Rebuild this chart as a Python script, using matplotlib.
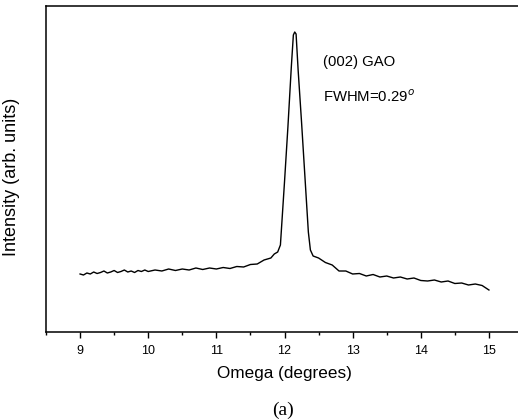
import matplotlib
matplotlib.use("Agg")
import matplotlib.pyplot as plt
from matplotlib.ticker import MultipleLocator

# Omega (degrees) and intensity (arb. units)
omega = [9.0, 9.05, 9.1, 9.15, 9.2, 9.25, 9.3, 9.35, 9.4, 9.45,
         9.5, 9.55, 9.6, 9.65, 9.7, 9.75, 9.8, 9.85, 9.9, 9.95,
         10.0, 10.1, 10.2, 10.3, 10.4, 10.5, 10.6, 10.7, 10.8, 10.9,
         11.0, 11.1, 11.2, 11.3, 11.4, 11.5, 11.6, 11.7, 11.8, 11.85,
         11.9, 11.94, 12.0, 12.05, 12.1, 12.13, 12.15, 12.17, 12.2, 12.25,
         12.3, 12.35, 12.38, 12.42, 12.5, 12.6, 12.7, 12.8, 12.9, 13.0,
         13.1, 13.2, 13.3, 13.4, 13.5, 13.6, 13.7, 13.8, 13.9, 14.0,
         14.1, 14.2, 14.3, 14.4, 14.5, 14.6, 14.7, 14.8, 14.9, 15.0]
intensity = [58, 57, 59, 58, 60, 58.5, 59.5, 61, 59, 60,
             61.5, 59.5, 60.5, 62, 60, 61, 59.5, 61.5, 60.5, 62,
             60.5, 62, 61, 63, 61.5, 63, 62, 64, 62.5, 64,
             63, 64.5, 63.5, 65.5, 65, 67.5, 68, 72, 74, 78,
             80, 87, 150, 205, 265, 297, 300, 298, 262, 210,
             155, 100, 82, 76, 74, 69.5, 67, 61, 61, 58,
             58.5, 56, 57.5, 55, 56, 54, 55, 53, 54, 51.5,
             51, 52, 50, 51, 48.5, 49, 47, 48, 46.5, 42]

xticks = [9, 10, 11, 12, 13, 14, 15]
label_a = "(002) GAO"
label_b = "FWHM=0.29$^{o}$"

plt.rcParams['font.family'] = ['Liberation Sans', 'DejaVu Sans']

fig = plt.figure(figsize=(5.18, 4.2), dpi=100)
ax = fig.add_axes([46/518, 88/420, 477/518, 326/420])
ax.plot(omega, intensity, color='black', lw=1.0)

ax.set_xlim(8.5, 15.5)
ax.set_ylim(0, 326)
ax.set_xticks(xticks)
ax.xaxis.set_minor_locator(MultipleLocator(0.5))
ax.set_yticks([])
ax.tick_params(axis='x', which='major', direction='out', length=4.5, width=1.0,
               labelsize=9, pad=5)
ax.tick_params(axis='x', which='minor', direction='out', length=2.5, width=1.0)
for s in ax.spines.values():
    s.set_linewidth(1.1)

ax.set_xlabel("Omega (degrees)", fontsize=12.3, labelpad=6)
ax.set_ylabel("Intensity (arb. units)", fontsize=13)
ax.yaxis.set_label_coords(-0.055, 0.475)

ax.text(12.56, 270, label_a, fontsize=10.7, va='center', ha='left')
ax.text(12.56, 235, label_b, fontsize=10.7, va='center', ha='left')

fig.text(283/518, 1 - 410/420, "(a)", fontsize=14, ha='center', va='center',
         family=['Liberation Serif', 'DejaVu Serif'])

fig.savefig("out.png", dpi=100)
